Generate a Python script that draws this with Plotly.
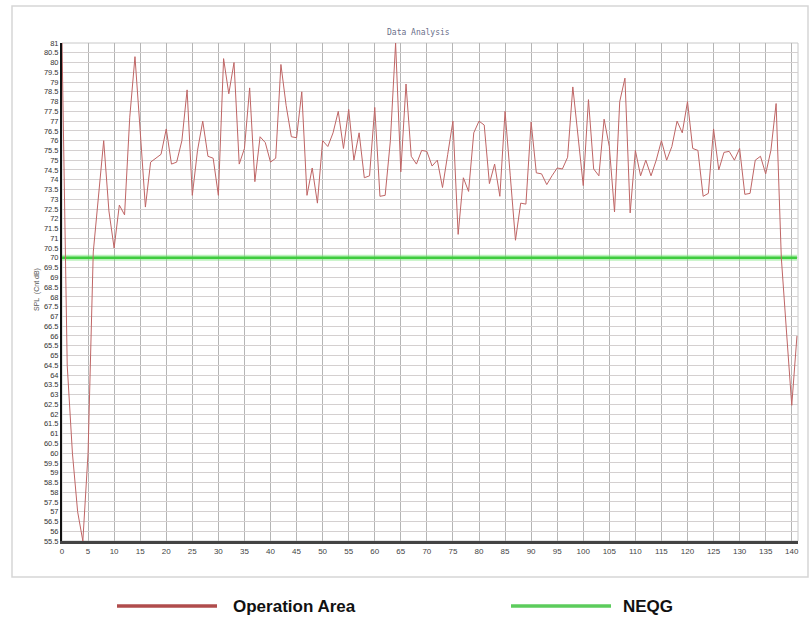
import plotly.graph_objects as go

# ---- data ----
x_vals = list(range(0, 142))
spl_values = [
    81.0, 64.5, 60.0, 57.0, 55.5, 60.0, 70.3, 73.0, 76.0, 72.4,
    70.5, 72.7, 72.2, 77.2, 80.3, 76.5, 72.6, 74.9, 75.1, 75.3,
    76.6, 74.8, 74.9, 76.0, 78.6, 73.2, 75.5, 77.0, 75.2, 75.1,
    73.2, 80.2, 78.4, 80.0, 74.8, 75.6, 78.7, 73.9, 76.2, 75.9,
    74.9, 75.1, 79.9, 77.8, 76.2, 76.15, 78.5, 73.2, 74.6, 72.8,
    76.0, 75.7, 76.4, 77.5, 75.6, 77.6, 75.0, 76.4, 74.1, 74.2,
    77.7, 73.15, 73.2, 76.0, 81.0, 74.4, 78.9, 75.2, 74.8, 75.5,
    75.45, 74.7, 75.0, 73.6, 75.3, 77.0, 71.2, 74.1, 73.4, 76.4,
    77.0, 76.8, 73.8, 74.8, 73.15, 77.5, 74.2, 70.9, 72.8, 72.75,
    76.95, 74.35, 74.3, 73.75, 74.2, 74.6, 74.55, 75.15, 78.75, 76.1,
    73.7, 78.1, 74.55, 74.2, 77.1, 75.7, 72.35, 78.0, 79.2, 72.3,
    75.5, 74.2, 75.0, 74.2, 75.0, 76.0, 75.0, 75.7, 77.0, 76.4,
    78.0, 75.6, 75.5, 73.15, 73.3, 76.6, 74.5, 75.4, 75.45, 75.0,
    75.6, 73.25, 73.3, 75.0, 75.2, 74.3, 75.5, 77.9, 70.0, 66.2,
    62.45, 66.0,
]
neqg_level = 70
neqg_values = [neqg_level for _ in x_vals]

x_ticks = list(range(0, 141, 5))
y_ticks = [55.5 + 0.5 * i for i in range(52)]
y_tick_text = [("%g" % v) for v in y_ticks]

series_names = ["Operation Area", "NEQG"]
series_colors = ["#bf6565", "#3fcc3f"]

W, H = 811, 624
L, R, T, B = 62, 13, 43, 83
PW, PH = W - L - R, H - T - B


def px(xp):
    return (xp - L) / PW


def py(yp):
    return (H - B - yp) / PH


fig = go.Figure()
fig.add_trace(go.Scatter(
    x=x_vals, y=neqg_values, mode="lines", name=series_names[1],
    line=dict(color="rgba(120,230,120,0.5)", width=6),
    showlegend=False, hoverinfo="skip"))
fig.add_trace(go.Scatter(
    x=x_vals, y=neqg_values, mode="lines", name=series_names[1],
    line=dict(color=series_colors[1], width=2.5), showlegend=False))
fig.add_trace(go.Scatter(
    x=x_vals, y=spl_values, mode="lines", name=series_names[0],
    line=dict(color=series_colors[0], width=1), showlegend=False))

fig.update_layout(
    width=W, height=H,
    margin=dict(l=L, r=R, t=T, b=B, autoexpand=False),
    paper_bgcolor="white", plot_bgcolor="white",
    font=dict(family="Liberation Sans, Arial, sans-serif", color="#333"),
    showlegend=False,
    xaxis=dict(range=[0, 141.2], tickmode="array", tickvals=x_ticks,
               showgrid=True, gridcolor="#b5b5b5", gridwidth=1,
               zeroline=False, showline=True, linecolor="#444", linewidth=3,
               mirror=False, ticks="", tickfont=dict(size=8, color="#444")),
    yaxis=dict(range=[55.5, 81], tickmode="array", tickvals=y_ticks,
               ticktext=y_tick_text, showgrid=True, gridcolor="#d4d0d0",
               gridwidth=1, zeroline=False, showline=True, linecolor="#111",
               linewidth=2, ticks="", tickfont=dict(size=7.5, color="#333")),
)

# title
fig.add_annotation(xref="paper", yref="paper", x=px(418), y=py(33),
                   xanchor="center", yanchor="middle", showarrow=False,
                   text="Data Analysis",
                   font=dict(family="DejaVu Sans Mono, monospace", size=8, color="#6a6f8a"))
# y-axis title
fig.add_annotation(xref="paper", yref="paper", x=px(37), y=py(290),
                   xanchor="center", yanchor="middle", showarrow=False,
                   textangle=-90, text="SPL  (Cnt dB)",
                   font=dict(size=7, color="#555"))

# plot-area border (top / right)
fig.add_shape(type="rect", xref="paper", yref="paper", x0=0, y0=0, x1=1, y1=1,
              line=dict(color="#c8c8c8", width=1), layer="below")
# outer frame
fig.add_shape(type="rect", xref="paper", yref="paper",
              x0=px(12), y0=py(577), x1=px(808), y1=py(6),
              line=dict(color="#d6d6d6", width=1.5))

# custom legend below the chart
leg_y = py(606)
fig.add_shape(type="line", xref="paper", yref="paper",
              x0=px(117), x1=px(217), y0=leg_y, y1=leg_y,
              line=dict(color="#b04c4c", width=3.5))
fig.add_annotation(xref="paper", yref="paper", x=px(231), y=leg_y,
                   xanchor="left", yanchor="middle", showarrow=False,
                   text="<b>" + series_names[0] + "</b>",
                   font=dict(size=17, color="#111",
                             family="Liberation Sans Narrow, Arial Narrow, Liberation Sans"))
fig.add_shape(type="line", xref="paper", yref="paper",
              x0=px(511), x1=px(611), y0=leg_y, y1=leg_y,
              line=dict(color="#5ccc5c", width=3.5))
fig.add_annotation(xref="paper", yref="paper", x=px(621), y=leg_y,
                   xanchor="left", yanchor="middle", showarrow=False,
                   text="<b>" + series_names[1] + "</b>",
                   font=dict(size=17, color="#111",
                             family="Liberation Sans Narrow, Arial Narrow, Liberation Sans"))

fig.write_html("out.html", config={"displayModeBar": False},
               post_script="document.body.style.margin='0';document.body.style.overflow='hidden';")
